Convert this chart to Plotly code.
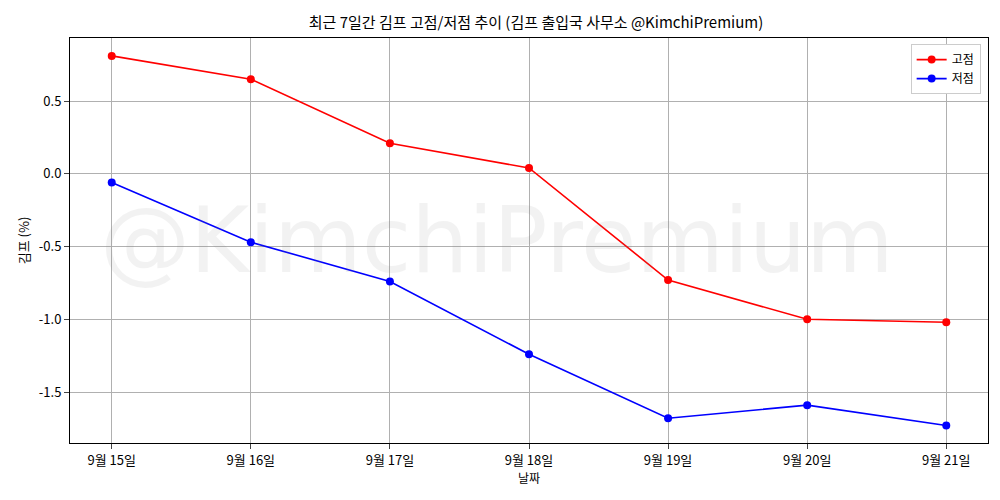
import plotly.graph_objects as go

dates = ["9월 15일", "9월 16일", "9월 17일", "9월 18일", "9월 19일", "9월 20일", "9월 21일"]
high = [0.81, 0.65, 0.21, 0.04, -0.73, -1.00, -1.02]
low = [-0.06, -0.47, -0.74, -1.24, -1.68, -1.59, -1.73]

F = "Noto Sans CJK KR"
fig = go.Figure()
fig.add_trace(go.Scatter(x=list(range(7)), y=high, name="고점", mode="lines+markers",
                         line=dict(color="red", width=1.6), marker=dict(size=8, color="red")))
fig.add_trace(go.Scatter(x=list(range(7)), y=low, name="저점", mode="lines+markers",
                         line=dict(color="blue", width=1.6), marker=dict(size=8, color="blue")))
fig.update_layout(
    width=1000, height=500, margin=dict(l=62, r=20, t=30, b=65, autoexpand=False),
    plot_bgcolor="white", paper_bgcolor="white",
    font=dict(family=F, size=13, color="black"),
    title=dict(text="최근 7일간 김프 고점/저점 추이 (김프 출입국 사무소 @KimchiPremium)",
               x=0.528, xanchor="center", y=0.97, yanchor="middle", font=dict(size=15)),
    legend=dict(x=0.992, y=0.985, xanchor="right", yanchor="top", bordercolor="#ccc",
                borderwidth=1, bgcolor="white", font=dict(size=12)),
    annotations=[dict(text="@KimchiPremium", x=0.465, y=0.5, xref="paper", yref="paper",
                      showarrow=False, font=dict(size=90, color="rgba(128,128,128,0.1)", family="DejaVu Sans"))],
)
fig.update_xaxes(tickvals=list(range(7)), ticktext=dates, range=[-0.3, 6.3], automargin=False,
                 showgrid=True, gridcolor="#b0b0b0", showline=True, linecolor="black",
                 mirror=True, ticks="outside", title=dict(text="날짜", standoff=4, font=dict(size=12)), zeroline=False)
fig.update_yaxes(range=[-1.85, 0.933], tickvals=[-1.5, -1.0, -0.5, 0.0, 0.5], automargin=False,
                 ticktext=["-1.5", "-1.0", "-0.5", "0.0", "0.5"],
                 showgrid=True, gridcolor="#b0b0b0", showline=True, linecolor="black",
                 mirror=True, ticks="outside", title=dict(text="김프 (%)", standoff=6, font=dict(size=13)), zeroline=False)
fig.write_html("out.html")
